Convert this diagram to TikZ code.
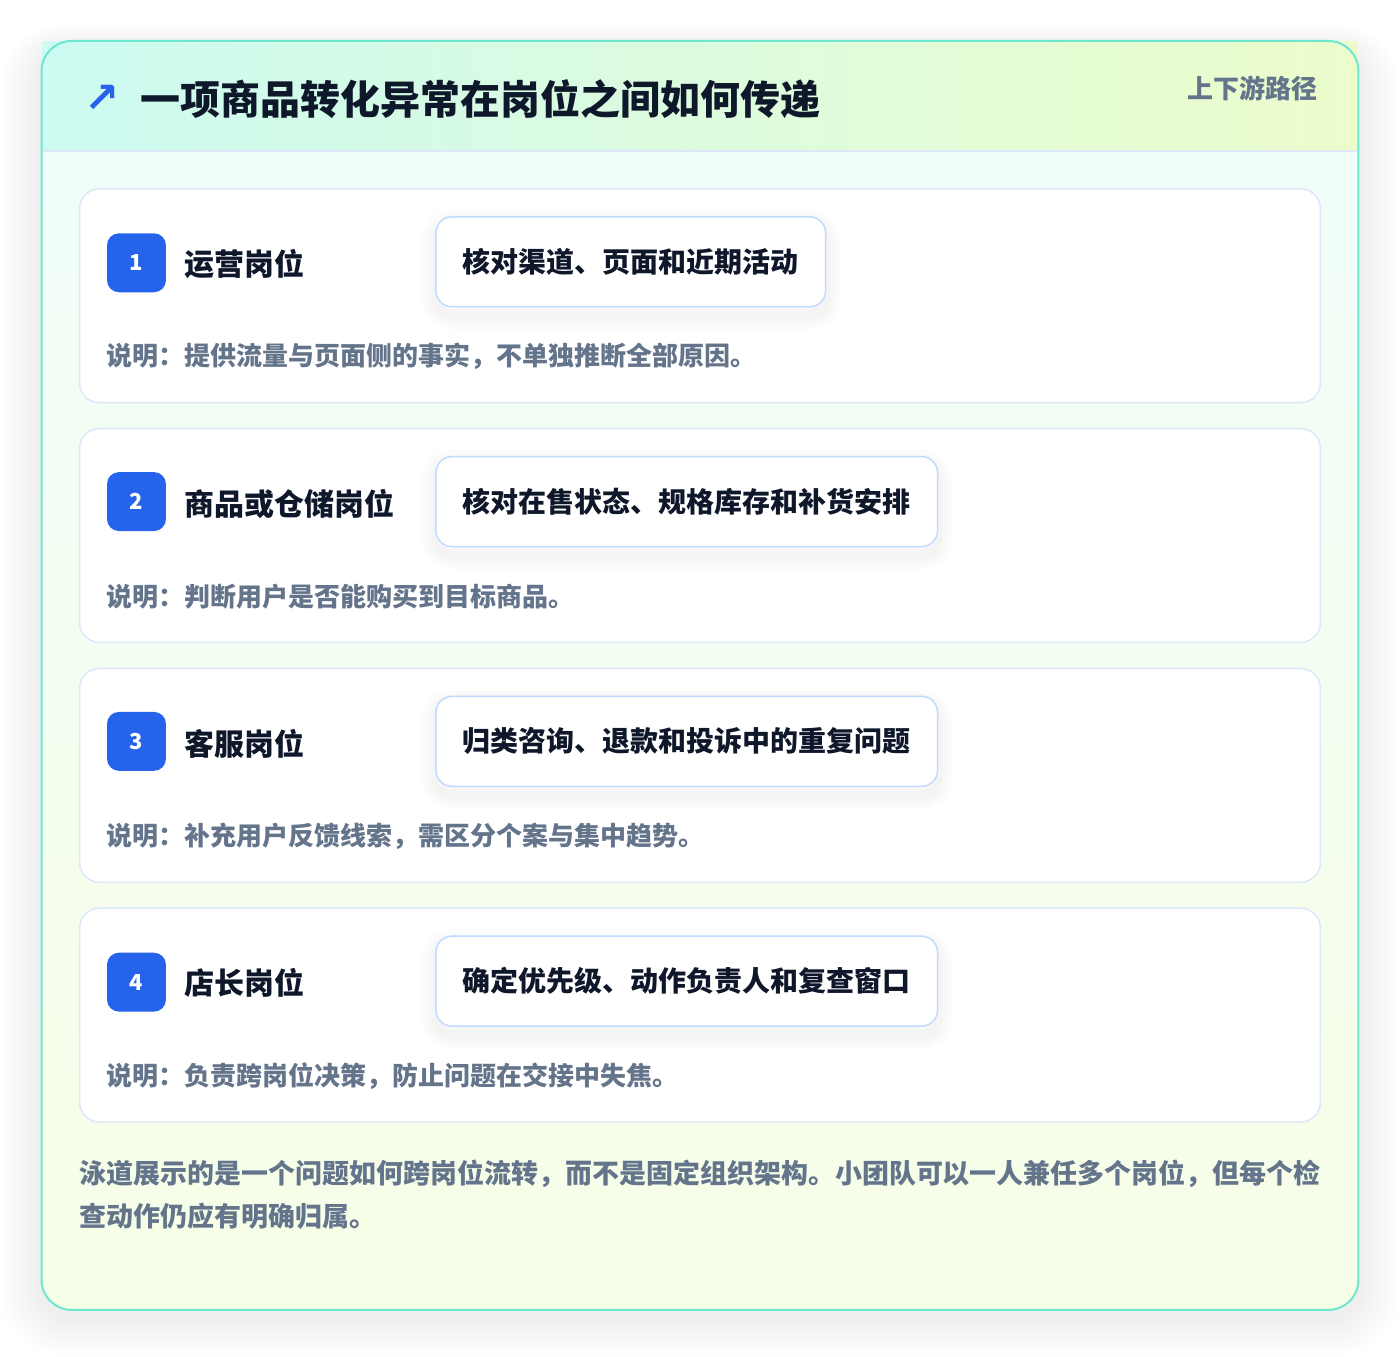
\documentclass[tikz,border=0pt]{standalone}
\usepackage{fontspec}
\setmainfont{Noto Sans CJK SC}[BoldFont={Noto Sans CJK SC Black}]
\newfontfamily\symfont{DejaVu Sans}
\definecolor{cardline}{HTML}{6EE7CF}
\definecolor{hdrleft}{HTML}{CCFBF1}
\definecolor{hdrright}{HTML}{ECFCCB}
\definecolor{cardtop}{HTML}{F0FDFA}
\definecolor{cardbot}{HTML}{F7FEE7}
\definecolor{laneline}{HTML}{DCE8FA}
\definecolor{boxline}{HTML}{BFDBFE}
\definecolor{badgeblue}{HTML}{2563EB}
\definecolor{ink}{HTML}{0F172A}
\definecolor{muted}{HTML}{64748B}
\begin{document}
\begin{tikzpicture}[x=1pt, y=-1pt, line join=round,
    lane/.style={draw=laneline, line width=1.5pt, fill=white, rounded corners=20pt, minimum width=1242pt, minimum height=214pt},
    badge/.style={fill=badgeblue, rounded corners=12pt, minimum size=59pt, inner sep=0pt, text=white, font=\bfseries\fontsize{22}{26}\selectfont},
    role/.style={anchor=west, inner sep=0pt, text=ink, font=\bfseries\fontsize{30}{36}\selectfont},
    soft/.style={preaction={draw=black, draw opacity=#1, transform canvas={yshift=-7pt}}},
    action/.style={anchor=west, draw=boxline, line width=1.5pt, fill=white, rounded corners=16pt, minimum height=90pt, inner xsep=27pt, text=ink, font=\bfseries\fontsize{28}{34}\selectfont,
        preaction={draw=black, draw opacity=0.012, line width=30pt, transform canvas={yshift=-8pt}},
        preaction={draw=black, draw opacity=0.014, line width=20pt, transform canvas={yshift=-8pt}},
        preaction={draw=black, draw opacity=0.016, line width=10pt, transform canvas={yshift=-8pt}}},
    note/.style={anchor=west, inner sep=0pt, text=muted, font=\bfseries\fontsize{26}{30}\selectfont}]
    % page and card
    \fill[white] (0,0) rectangle (1400,1352);
    \foreach \k in {1,...,16}
        \fill[black, opacity=0.0045, rounded corners=30pt+\k*2pt] (41-\k*2.6, 41-\k*1.6+8) rectangle (1359+\k*2.6, 1311+\k*2.4+8);
    \fill[top color=cardtop, bottom color=cardbot, rounded corners=30pt] (41,41) rectangle (1359,1311);
    \fill[left color=hdrleft, right color=hdrright] (42,42) rectangle (1358,151);
    \draw[laneline, line width=1.5pt] (42,151) -- (1358,151);
    \draw[cardline, line width=2pt, rounded corners=30pt] (41,41) rectangle (1359,1311);
    % header
    \node[anchor=west, inner sep=0pt, text=badgeblue, font=\symfont\bfseries\fontsize{42}{48}\selectfont] (icon) at (84,99) {↗};
    \node[anchor=west, inner sep=0pt, text=ink, font=\bfseries\fontsize{40}{48}\selectfont] (title) at (140,99) {一项商品转化异常在岗位之间如何传递};
    \node[anchor=east, inner sep=0pt, text=muted, font=\bfseries\fontsize{26}{30}\selectfont] (tag) at (1318,89) {上下游路径};
    % lane 1
    \node[lane] (lane1) at (700,296) {};
    \node[badge] (num1) at (136,263) {1};
    \node[role] (role1) at (184,264) {运营岗位};
    \node[action] (act1) at (435,262) {核对渠道、页面和近期活动};
    \node[note] (note1) at (106,357) {说明：提供流量与页面侧的事实，不单独推断全部原因。};
    % lane 2
    \node[lane] (lane2) at (700,536) {};
    \node[badge] (num2) at (136,502) {2};
    \node[role] (role2) at (184,504) {商品或仓储岗位};
    \node[action] (act2) at (435,502) {核对在售状态、规格库存和补货安排};
    \node[note] (note2) at (106,597) {说明：判断用户是否能购买到目标商品。};
    % lane 3
    \node[lane] (lane3) at (700,776) {};
    \node[badge] (num3) at (136,742) {3};
    \node[role] (role3) at (184,744) {客服岗位};
    \node[action] (act3) at (435,742) {归类咨询、退款和投诉中的重复问题};
    \node[note] (note3) at (106,837) {说明：补充用户反馈线索，需区分个案与集中趋势。};
    % lane 4
    \node[lane] (lane4) at (700,1016) {};
    \node[badge] (num4) at (136,983) {4};
    \node[role] (role4) at (184,984) {店长岗位};
    \node[action] (act4) at (435,982) {确定优先级、动作负责人和复查窗口};
    \node[note] (note4) at (106,1077) {说明：负责跨岗位决策，防止问题在交接中失焦。};
    % footer
    \node[note, font=\bfseries\fontsize{27}{32}\selectfont] (foot1) at (79,1175) {泳道展示的是一个问题如何跨岗位流转，而不是固定组织架构。小团队可以一人兼任多个岗位，但每个检};
    \node[note, font=\bfseries\fontsize{27}{32}\selectfont] (foot2) at (79,1217) {查动作仍应有明确归属。};
\end{tikzpicture}
\end{document}
